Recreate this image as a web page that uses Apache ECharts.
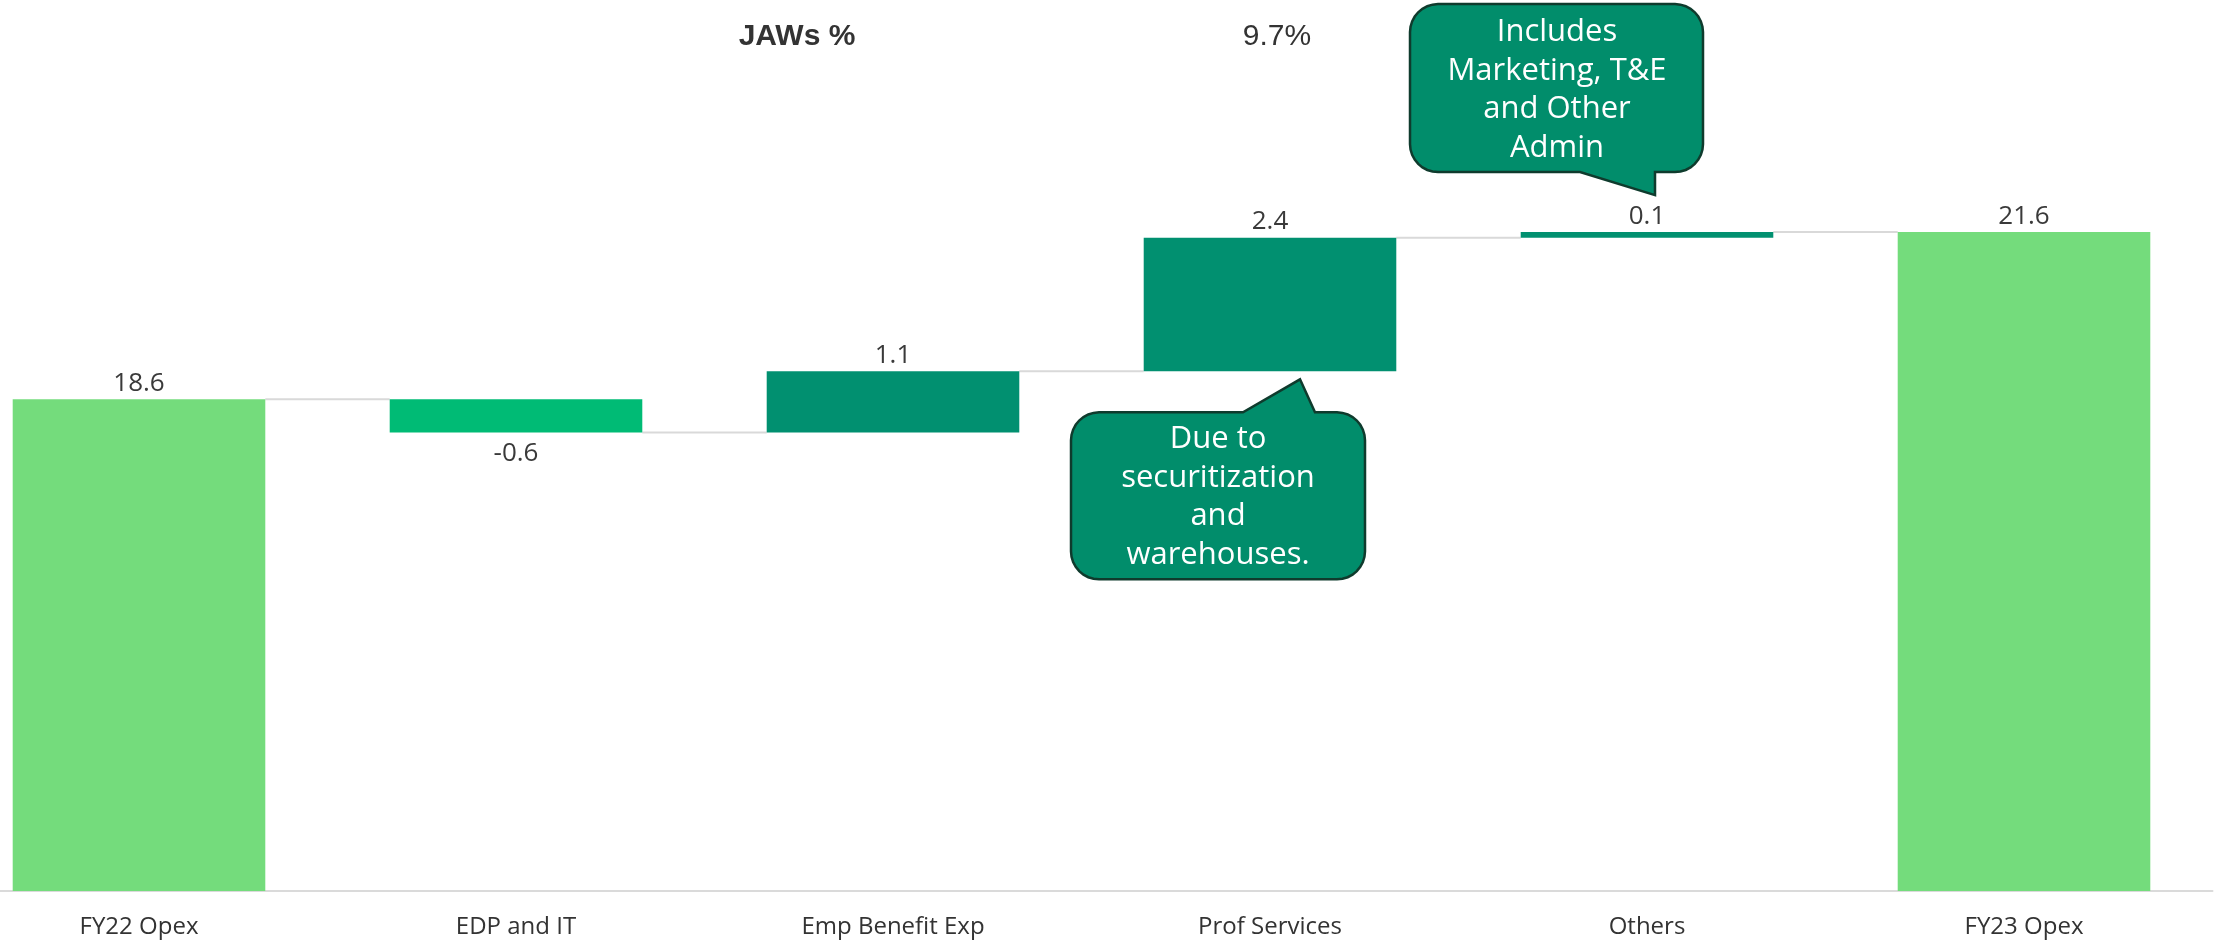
<!DOCTYPE html>
<html>
<head>
<meta charset="utf-8">
<title>Opex bridge</title>
<script src="https://cdn.jsdelivr.net/npm/echarts@6/dist/echarts.min.js"></script>
<style>
  html, body { margin: 0; padding: 0; background: #fff; }
  #chart { width: 2216px; height: 944px; }
</style>
</head>
<body>
<div id="chart"></div>
<script>
// Datos del gráfico
const categories = ['FY22 Opex', 'EDP and IT', 'Emp Benefit Exp', 'Prof Services', 'Others', 'FY23 Opex'];
const values = [18.6, -0.6, 1.1, 2.4, 0.1, 21.6];
const isTotal = [true, false, false, false, false, true];
const jawsLabel = 'JAWs %';
const jawsValue = '9.7%';
const noteOthers = 'Includes\nMarketing, T&E\nand Other\nAdmin';
const noteProf = 'Due to\nsecuritization\nand\nwarehouses.';

const colorTotal = '#74DC7C';
const colorUp = '#019070';
const colorDown = '#00BB75';

// Calcular base invisible y altura de cada barra
const baseData = [];
const barData = [];
const levels = [];
let running = 0;
values.forEach((v, i) => {
    if (isTotal[i]) {
        running = v;
        baseData.push(0);
        barData.push({ value: v, itemStyle: { color: colorTotal }, label: { position: 'top' } });
    } else {
        const low = Math.min(running, running + v);
        baseData.push(low);
        barData.push({
            value: Math.abs(v),
            itemStyle: { color: v < 0 ? colorDown : colorUp },
            label: { position: v < 0 ? 'bottom' : 'top', distance: v < 0 ? 8 : 3 }
        });
        running = running + v;
    }
    levels.push(running);
});
const connectorData = levels.slice(0, -1).map((lv, i) => [i, lv]);

const chart = echarts.init(document.getElementById('chart'));
const option = {
    backgroundColor: '#fff',
    animation: false,
    grid: { left: -49.5, right: 3.5, top: 60, bottom: 53, outerBoundsMode: 'none', containLabel: false },
    xAxis: {
        type: 'category',
        data: categories,
        axisLine: { lineStyle: { color: '#dadada', width: 2 } },
        axisTick: { show: false },
        axisLabel: { color: '#333', fontSize: 24, fontFamily: 'Open Sans', margin: 24 }
    },
    yAxis: {
        type: 'value',
        min: 9.77,
        max: 24.69,
        show: false
    },
    series: [
        {
            type: 'custom',
            data: connectorData,
            z: 1,
            encode: { x: 0, y: 1 },
            renderItem: (params, api) => {
                const i = api.value(0);
                const lv = api.value(1);
                const p0 = api.coord([i, lv]);
                const p1 = api.coord([i + 1, lv]);
                const half = api.size([1, 0])[0] * 0.335;
                return {
                    type: 'line',
                    shape: { x1: p0[0] + half, y1: p0[1], x2: p1[0] - half, y2: p1[1] },
                    style: { stroke: '#d9d9d9', lineWidth: 2 }
                };
            }
        },
        {
            type: 'bar',
            stack: 'wf',
            data: baseData,
            barWidth: '67%',
            itemStyle: { color: 'transparent' },
            emphasis: { disabled: true },
            z: 2
        },
        {
            type: 'bar',
            stack: 'wf',
            data: barData,
            barWidth: '67%',
            z: 2,
            label: {
                show: true,
                color: '#3a3a3a',
                fontSize: 26,
                fontFamily: 'Open Sans',
                distance: 3,
                formatter: p => values[p.dataIndex].toFixed(1)
            }
        }
    ]
};
chart.setOption(option);

// Bocadillos de anotación: rectángulo redondeado con pico, como polígono
function corner(pts, cx, cy, r, a0) {
    for (let k = 0; k <= 8; k++) {
        const a = a0 + (Math.PI / 2) * (k / 8);
        pts.push([cx + r * Math.cos(a), cy + r * Math.sin(a)]);
    }
}
function calloutPoints(x0, y0, x1, y1, r, tail) {
    const pts = [];
    corner(pts, x0 + r, y0 + r, r, Math.PI);
    if (tail.side === 'top') pts.push([tail.a, y0], [tail.tx, tail.ty], [tail.b, y0]);
    corner(pts, x1 - r, y0 + r, r, -Math.PI / 2);
    corner(pts, x1 - r, y1 - r, r, 0);
    if (tail.side === 'bottom') pts.push([tail.b, y1], [tail.tx, tail.ty], [tail.a, y1]);
    corner(pts, x0 + r, y1 - r, r, Math.PI / 2);
    return pts;
}

const othersTop = chart.convertToPixel({ seriesIndex: 2 }, [4, levels[4]]);
const profBottom = chart.convertToPixel({ seriesIndex: 2 }, [3, levels[2]]);

const t1 = [othersTop[0] + 8, othersTop[1] - 37];
const t2 = [profBottom[0] + 30, profBottom[1] + 8];

const boxStyle = { fill: '#018D6B', stroke: '#0F3B2D', lineWidth: 2.5 };
const noteFont = { fill: '#fff', fontSize: 31, fontFamily: 'Open Sans', align: 'center', verticalAlign: 'middle', lineHeight: 38.5 };

chart.setOption({
    graphic: [
        {
            type: 'text',
            style: { text: jawsLabel, x: 797, y: 37, fill: '#333', fontSize: 30, fontWeight: 'bold', fontFamily: 'Liberation Sans', align: 'center', verticalAlign: 'middle' }
        },
        {
            type: 'text',
            style: { text: jawsValue, x: 1277, y: 37, fill: '#333', fontSize: 30, fontFamily: 'Liberation Sans', align: 'center', verticalAlign: 'middle' }
        },
        {
            type: 'polygon',
            z: 10,
            shape: { points: calloutPoints(t1[0] - 245, t1[1] - 191, t1[0] + 48, t1[1] - 23, 28, { side: 'bottom', a: t1[0] - 75, b: t1[0], tx: t1[0], ty: t1[1] }) },
            style: boxStyle
        },
        {
            type: 'text',
            z: 11,
            style: Object.assign({ text: noteOthers, x: t1[0] - 98, y: t1[1] - 105 }, noteFont)
        },
        {
            type: 'polygon',
            z: 10,
            shape: { points: calloutPoints(t2[0] - 229, t2[1] + 33, t2[0] + 65, t2[1] + 200, 28, { side: 'top', a: t2[0] - 57, b: t2[0] + 15, tx: t2[0], ty: t2[1] }) },
            style: boxStyle
        },
        {
            type: 'text',
            z: 11,
            style: Object.assign({ text: noteProf, x: t2[0] - 82, y: t2[1] + 118 }, noteFont)
        }
    ]
});
</script>
</body>
</html>
